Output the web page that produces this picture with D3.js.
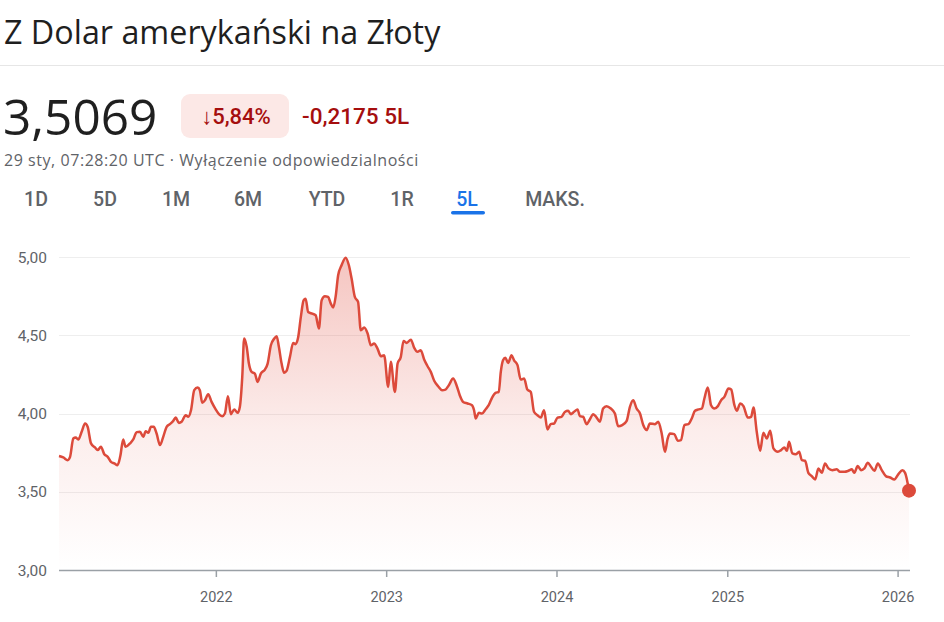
<!DOCTYPE html>
<html><head><meta charset="utf-8">
<script src="https://cdn.jsdelivr.net/npm/d3@7"></script>
<style>
html,body{margin:0;padding:0;background:#fff;}
svg{display:block;}
</style></head>
<body>
<svg id="chart" width="944" height="622"></svg>
<script>
const titleText = "Z Dolar amerykański na Złoty";
const priceText = "3,5069";
const changePct = "↓5,84%";
const changeAbs = "-0,2175 5L";
const subtitle = "29 sty, 07:28:20 UTC · Wyłączenie odpowiedzialności";
const tabs = ["1D","5D","1M","6M","YTD","1R","5L","MAKS."];
const activeTab = "5L";
const yTicks = [3, 3.5, 4, 4.5, 5];
const xTickYears = [2022, 2023, 2024, 2025, 2026];

// time as decimal years
const times = [
2021.079,2021.104,2021.130,2021.144,2021.163,2021.177,2021.192,2021.212,2021.232,2021.247,
2021.267,2021.290,2021.306,2021.325,2021.345,2021.365,2021.384,2021.404,2021.423,2021.439,
2021.456,2021.470,2021.496,2021.515,2021.535,2021.554,2021.574,2021.588,2021.603,2021.619,
2021.635,2021.652,2021.672,2021.691,2021.711,2021.730,2021.750,2021.764,2021.783,2021.799,
2021.823,2021.838,2021.854,2021.873,2021.893,2021.906,2021.920,2021.936,2021.955,2021.975,
2021.999,2022.018,2022.037,2022.053,2022.071,2022.088,2022.108,2022.128,2022.141,2022.155,
2022.166,2022.181,2022.194,2022.210,2022.229,2022.245,2022.264,2022.288,2022.304,2022.323,
2022.343,2022.357,2022.370,2022.386,2022.401,2022.415,2022.435,2022.454,2022.468,2022.483,
2022.499,2022.515,2022.527,2022.542,2022.566,2022.586,2022.605,2022.621,2022.640,2022.659,
2022.675,2022.689,2022.703,2022.718,2022.738,2022.762,2022.781,2022.797,2022.816,2022.835,
2022.851,2022.871,2022.891,2022.910,2022.929,2022.949,2022.969,2022.988,2023.012,2023.027,
2023.051,2023.067,2023.086,2023.102,2023.120,2023.145,2023.164,2023.184,2023.203,2023.223,
2023.243,2023.262,2023.282,2023.305,2023.328,2023.348,2023.368,2023.393,2023.413,2023.432,
2023.452,2023.478,2023.504,2023.516,2023.526,2023.544,2023.563,2023.583,2023.602,2023.622,
2023.642,2023.661,2023.673,2023.686,2023.700,2023.716,2023.736,2023.751,2023.771,2023.790,
2023.810,2023.829,2023.849,2023.868,2023.888,2023.908,2023.927,2023.947,2023.966,2023.986,
2024.006,2024.029,2024.049,2024.068,2024.084,2024.103,2024.123,2024.137,2024.156,2024.176,
2024.195,2024.215,2024.235,2024.254,2024.273,2024.293,2024.318,2024.342,2024.361,2024.385,
2024.411,2024.430,2024.449,2024.469,2024.489,2024.508,2024.528,2024.547,2024.577,2024.596,
2024.616,2024.635,2024.651,2024.665,2024.690,2024.710,2024.729,2024.749,2024.772,2024.792,
2024.811,2024.831,2024.851,2024.866,2024.886,2024.905,2024.925,2024.945,2024.964,2024.983,
2025.007,2025.023,2025.042,2025.056,2025.076,2025.095,2025.121,2025.140,2025.154,2025.173,
2025.193,2025.212,2025.232,2025.252,2025.271,2025.297,2025.316,2025.335,2025.350,2025.363,
2025.382,2025.402,2025.422,2025.438,2025.457,2025.476,2025.496,2025.516,2025.535,2025.555,
2025.574,2025.594,2025.617,2025.643,2025.662,2025.688,2025.711,2025.731,2025.746,2025.766,
2025.786,2025.805,2025.825,2025.844,2025.864,2025.884,2025.907,2025.931,2025.956,2025.981,
2026.005,2026.028,2026.044,2026.067
];
const rates = [
3.728,3.719,3.702,3.723,3.840,3.847,3.834,3.883,3.936,3.915,
3.809,3.783,3.766,3.787,3.740,3.723,3.691,3.681,3.670,3.728,
3.834,3.787,3.809,3.834,3.881,3.883,3.851,3.887,3.877,3.915,
3.915,3.872,3.798,3.851,3.915,3.932,3.953,3.974,3.940,3.947,
3.989,3.979,4.021,4.149,4.166,4.149,4.068,4.085,4.123,4.074,
4.026,3.996,3.983,4.000,4.111,3.996,4.026,4.004,4.043,4.234,
4.479,4.426,4.319,4.266,4.255,4.202,4.255,4.281,4.319,4.436,
4.479,4.494,4.426,4.319,4.260,4.272,4.362,4.451,4.443,4.485,
4.617,4.723,4.734,4.649,4.638,4.628,4.543,4.723,4.749,4.745,
4.702,4.677,4.745,4.883,4.947,4.996,4.947,4.862,4.745,4.713,
4.532,4.549,4.511,4.436,4.447,4.415,4.366,4.372,4.170,4.330,
4.138,4.319,4.362,4.464,4.451,4.472,4.421,4.394,4.404,4.345,
4.302,4.266,4.209,4.174,4.149,4.153,4.181,4.223,4.181,4.117,
4.074,4.064,4.053,4.021,3.968,4.004,4.000,4.026,4.053,4.102,
4.132,4.138,4.266,4.340,4.357,4.323,4.372,4.340,4.309,4.217,
4.223,4.153,4.138,4.011,3.989,3.974,4.021,3.898,3.932,3.936,
3.974,3.979,4.010,4.017,3.996,4.011,4.026,3.983,3.979,3.932,
3.962,3.996,3.974,3.947,4.032,4.047,4.032,4.000,3.919,3.926,
3.953,4.043,4.085,4.032,4.000,3.926,3.894,3.936,3.932,3.947,
3.872,3.755,3.840,3.872,3.868,3.826,3.830,3.926,3.932,3.968,
4.017,4.026,4.032,4.096,4.166,4.053,4.032,4.047,4.085,4.106,
4.160,4.153,4.053,4.017,4.064,4.047,3.974,3.979,4.038,3.883,
3.762,3.877,3.840,3.889,3.777,3.755,3.766,3.783,3.762,3.819,
3.745,3.740,3.755,3.702,3.698,3.621,3.600,3.579,3.649,3.621,
3.681,3.649,3.638,3.643,3.628,3.628,3.634,3.643,3.621,3.664,
3.638,3.649,3.685,3.660,3.634,3.681,3.638,3.600,3.591,3.579,
3.613,3.638,3.621,3.5069
];

function toDate(t){
  const yr = Math.floor(t);
  const a = new Date(yr,0,1), b = new Date(yr+1,0,1);
  return new Date(+a + (t-yr)*(b-a));
}
const data = times.map((t,i)=>({date:toDate(t), v:rates[i]}));

const svg = d3.select("#chart");
const sans = "Roboto, 'Noto Sans', Arial, sans-serif";
const head = "'Open Sans', Roboto, Arial, sans-serif";

// Header
svg.append("text").attr("x",4).attr("y",44).attr("font-family",head).attr("font-size",32.3)
  .attr("fill","#1f1f1f").text(titleText);
svg.append("line").attr("x1",0).attr("x2",944).attr("y1",65.5).attr("y2",65.5)
  .attr("stroke","#e6e6e6").attr("stroke-width",1);
svg.append("text").attr("x",3).attr("y",135).attr("font-family",head).attr("font-size",49.5)
  .attr("fill","#1f1f1f").text(priceText);
svg.append("rect").attr("x",181).attr("y",94).attr("width",108).attr("height",44).attr("rx",9)
  .attr("fill","#fce8e6");
svg.append("text").attr("x",236).attr("y",124).attr("text-anchor","middle").attr("font-family",sans)
  .attr("font-size",22).attr("font-weight",500).attr("fill","#a50e0e").text(changePct);
svg.append("text").attr("x",302).attr("y",124).attr("font-family",sans)
  .attr("font-size",22.5).attr("font-weight",500).attr("fill","#a50e0e").text(changeAbs);
svg.append("text").attr("x",4).attr("y",166).attr("font-family",head).attr("font-size",16)
  .attr("letter-spacing",0.55).attr("fill","#5f6368").text(subtitle);

// Tabs
const tabCenters = {"1D":36,"5D":105,"1M":176,"6M":248,"YTD":327,"1R":402,"5L":467,"MAKS.":555};
svg.selectAll("text.tab").data(tabs).join("text").attr("class","tab")
  .attr("x",d=>tabCenters[d]).attr("y",206).attr("text-anchor","middle")
  .attr("font-family",sans).attr("font-size",19.5).attr("font-weight",500)
  .attr("fill",d=>d===activeTab?"#1a73e8":"#5f6368").text(d=>d);
svg.append("rect").attr("x",451).attr("y",211).attr("width",34).attr("height",3.5).attr("rx",1.75)
  .attr("fill","#1a73e8");

// Chart
const pLeft=59, pRight=909, pTop=257, pBottom=570;
const x = d3.scaleTime().domain(d3.extent(data,d=>d.date)).range([pLeft,pRight]);
const y = d3.scaleLinear().domain([3,5]).range([pBottom,pTop]);

const defs = svg.append("defs");
const grad = defs.append("linearGradient").attr("id","fillGrad")
  .attr("gradientUnits","userSpaceOnUse").attr("x1",0).attr("x2",0).attr("y1",y(5)).attr("y2",y(3));
grad.append("stop").attr("offset","0%").attr("stop-color","#e04a3c").attr("stop-opacity",0.32);
grad.append("stop").attr("offset","55%").attr("stop-color","#e04a3c").attr("stop-opacity",0.1);
grad.append("stop").attr("offset","100%").attr("stop-color","#e04a3c").attr("stop-opacity",0.0);

// gridlines
svg.append("g").selectAll("line").data(yTicks.filter(t=>t>3)).join("line")
  .attr("x1",pLeft).attr("x2",910).attr("y1",d=>Math.round(y(d))+0.5).attr("y2",d=>Math.round(y(d))+0.5)
  .attr("stroke","#eeeeee").attr("stroke-width",1);

// y labels
svg.append("g").selectAll("text").data(yTicks).join("text")
  .attr("x",47).attr("y",d=>y(d)+5.5).attr("text-anchor","end")
  .attr("font-family",sans).attr("font-size",15.5).attr("fill","#5f6368")
  .text(d=>d3.format(".2f")(d).replace(".",","));

// area + line
const area = d3.area().x(d=>x(d.date)).y0(pBottom).y1(d=>y(d.v)).curve(d3.curveMonotoneX);
const line = d3.line().x(d=>x(d.date)).y(d=>y(d.v)).curve(d3.curveMonotoneX);
svg.append("path").datum(data).attr("d",area).attr("fill","url(#fillGrad)");
svg.append("path").datum(data).attr("d",line).attr("fill","none")
  .attr("stroke","#dc4a3b").attr("stroke-width",2.5).attr("stroke-linejoin","round");

// x axis
const xAxis = d3.axisBottom(x).tickValues(xTickYears.map(yr=>new Date(yr,0,1)))
  .tickFormat(d3.timeFormat("%Y")).tickSize(7).tickPadding(15);
const gx = svg.append("g").attr("transform",`translate(0,${pBottom})`).call(xAxis);
gx.select(".domain").attr("d",`M${pLeft},0.5H910`).attr("stroke","#9aa0a6").attr("stroke-width",1.5);
gx.selectAll(".tick line").attr("stroke","#9aa0a6").attr("stroke-width",1.5);
gx.selectAll(".tick text").attr("font-family",sans).attr("font-size",14.5).attr("fill","#5f6368");

// end dot
const last = data[data.length-1];
svg.append("circle").attr("cx",x(last.date)).attr("cy",y(last.v)).attr("r",7).attr("fill","#dc4a3b");
</script>
</body></html>
